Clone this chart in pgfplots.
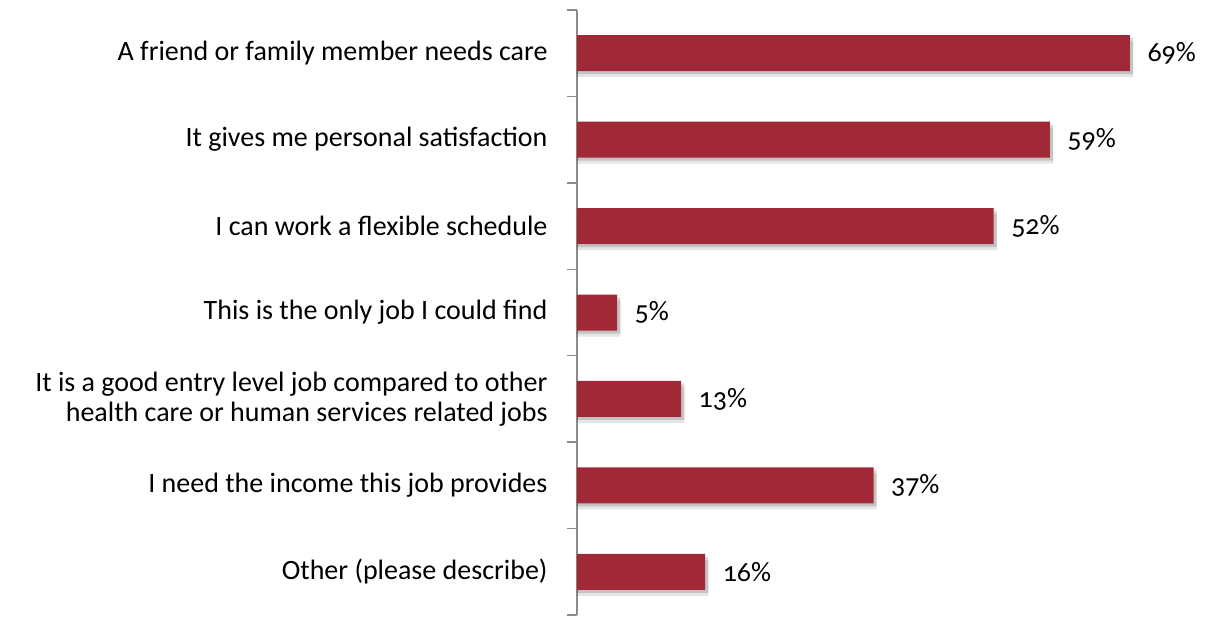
\documentclass[border=0pt]{standalone}
\usepackage{pgfplots}
\pgfplotsset{compat=1.18}
\usepackage{fontspec}
\setmainfont[Numbers=OldStyle]{Carlito}
\definecolor{barred}{RGB}{161,40,55}
\definecolor{axgray}{RGB}{140,140,140}
\pgfplotstableread{
x y
69 0
59 1
52 2
5 3
13 4
37 5
16 6
}\datatab
\pgfplotstableread{
x y
69.4 0
59.4 1
52.4 2
5.4 3
13.4 4
37.4 5
16.4 6
}\shadowtab
\begin{document}
\fontsize{28}{30}\selectfont
\begin{tikzpicture}
\useasboundingbox (-577pt,-5pt) rectangle (631pt,615pt);
\begin{axis}[
  at={(0pt,0pt)}, anchor=south west,
  xbar,
  scale only axis,
  width=553pt, height=605pt,
  xmin=0, xmax=69,
  ymin=-0.5, ymax=6.5,
  y dir=reverse,
  bar width=36pt,
  axis y line*=left,
  axis x line=none,
  y axis line style={axgray, line width=1.5pt},
  ytick={0,...,6},
  yticklabels={A friend or family member needs care,
    It gives me personal satisfaction,
    I can work a flexible schedule,
    This is the only job I could find,
    {It is a good entry level job compared to other\\health care or human services related jobs},
    I need the income this job provides,
    Other (please describe)},
  yticklabel style={align=right, font=\fontsize{28}{30}\selectfont, text=black, xshift=-20pt},
  major tick length=0pt,
  minor ytick={-0.5,0.5,...,6.5},
  minor tick length=10pt,
  tick align=outside,
  minor tick style={axgray, line width=1.5pt},
  tick pos=left,
  clip=false,
  /pgf/number format/assume math mode=true,
]
\addplot[fill=black, fill opacity=0.10, draw=none, bar shift=-6pt] table[x=x,y=y] {\shadowtab};
\addplot[fill=black, fill opacity=0.15, draw=none, bar shift=-3pt] table[x=x,y=y] {\shadowtab};
\addplot[fill=barred, draw=none, bar shift=0pt,
  nodes near coords={\pgfmathprintnumber{\pgfplotspointmeta}\%},
  nodes near coords style={font=\fontsize{28}{30}\selectfont, anchor=west, xshift=8pt, text=black},
  point meta=x] table[x=x,y=y] {\datatab};
\end{axis}
\end{tikzpicture}
\end{document}
